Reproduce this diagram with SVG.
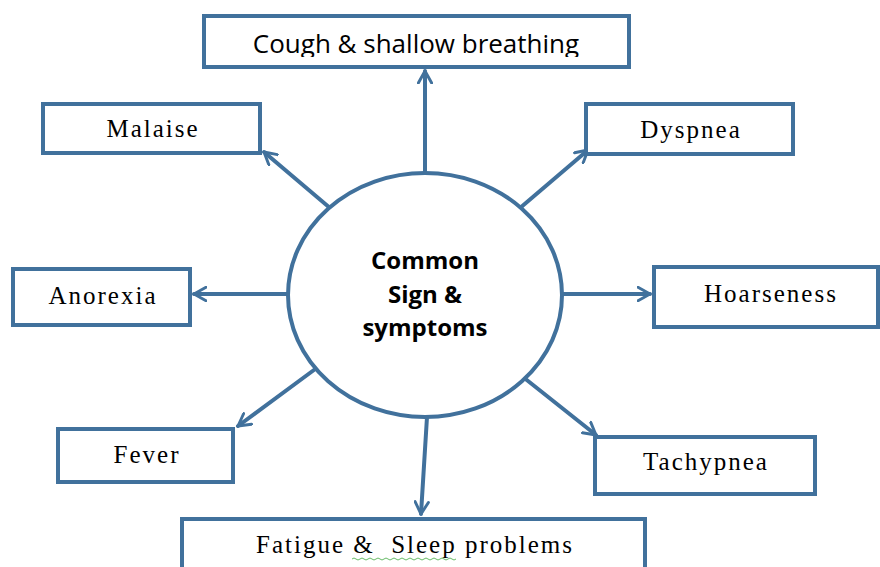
<svg xmlns="http://www.w3.org/2000/svg" width="880" height="567" viewBox="0 0 880 567">
<style>
.box{fill:#fff;stroke:#41719c;stroke-width:4}
.ln{stroke:#41719c;stroke-width:4;fill:none;stroke-linecap:round}
.t{font-family:"Liberation Serif",serif;font-size:25px;letter-spacing:2px;fill:#000;text-anchor:middle}
.s{font-family:"Open Sans","Liberation Sans",sans-serif;font-size:26px;fill:#000;text-anchor:middle}
.c{font-family:"Open Sans","Liberation Sans",sans-serif;font-size:24px;font-weight:bold;fill:#000;text-anchor:middle}
</style>
<defs>
<marker id="ah" viewBox="0 0 12 12" refX="10" refY="6" markerWidth="4" markerHeight="4" orient="auto" markerUnits="strokeWidth">
<polyline points="1,1 10,6 1,11" fill="none" stroke="#41719c" stroke-width="2.2" stroke-linecap="round" stroke-linejoin="round"/>
</marker>
<clipPath id="cc"><rect x="205" y="17" width="423" height="40"/></clipPath>
</defs>
<g id="connectors">
<line class="ln" x1="425" y1="173" x2="425" y2="71" marker-end="url(#ah)"/>
<line class="ln" x1="330" y1="208" x2="264" y2="152" marker-end="url(#ah)"/>
<line class="ln" x1="520" y1="208" x2="588" y2="150" marker-end="url(#ah)"/>
<line class="ln" x1="288" y1="294" x2="194" y2="294" marker-end="url(#ah)"/>
<line class="ln" x1="562" y1="294" x2="650" y2="294" marker-end="url(#ah)"/>
<line class="ln" x1="318" y1="367" x2="238" y2="426" marker-end="url(#ah)"/>
<line class="ln" x1="523" y1="377" x2="596" y2="435" marker-end="url(#ah)"/>
<line class="ln" x1="427" y1="417" x2="421" y2="514" marker-end="url(#ah)"/>
</g>
<g id="center">
<ellipse cx="425" cy="295" rx="137" ry="122" fill="#fff" stroke="#41719c" stroke-width="4"/>
<text class="c" x="425" y="269">Common</text>
<text class="c" x="425" y="303">Sign &amp;</text>
<text class="c" x="425" y="336">symptoms</text>
</g>
<g id="cough">
<rect class="box" x="204" y="16" width="425" height="51"/>
<text class="s" x="416" y="53" clip-path="url(#cc)">Cough &amp; shallow breathing</text>
</g>
<g id="malaise">
<rect class="box" x="43" y="104" width="217" height="49"/>
<text class="t" x="153" y="137">Malaise</text>
</g>
<g id="dyspnea">
<rect class="box" x="586" y="104" width="207" height="50"/>
<text class="t" x="691" y="138">Dyspnea</text>
</g>
<g id="anorexia">
<rect class="box" x="13" y="269" width="177" height="56"/>
<text class="t" x="103" y="304">Anorexia</text>
</g>
<g id="hoarseness">
<rect class="box" x="654" y="267" width="224" height="60"/>
<text class="t" x="771" y="302">Hoarseness</text>
</g>
<g id="fever">
<rect class="box" x="58" y="429" width="175" height="53"/>
<text class="t" x="147" y="463">Fever</text>
</g>
<g id="tachypnea">
<rect class="box" x="595" y="437" width="220" height="57"/>
<text class="t" x="706" y="470">Tachypnea</text>
</g>
<g id="fatigue">
<rect class="box" x="182" y="519" width="463" height="60"/>
<text class="t" x="415" y="553" xml:space="preserve">Fatigue &amp;  Sleep problems</text>
<path d="M352,559 q2,-2 4,0 t4,0 t4,0 t4,0 t4,0 t4,0 t4,0 t4,0 t4,0 t4,0 t4,0 t4,0 t4,0 t4,0 t4,0 t4,0 t4,0 t4,0 t4,0 t4,0 t4,0 t4,0 t4,0 t4,0 t4,0 t4,0" fill="none" stroke="#3fa83f" stroke-width="0.8"/>
</g>
</svg>
